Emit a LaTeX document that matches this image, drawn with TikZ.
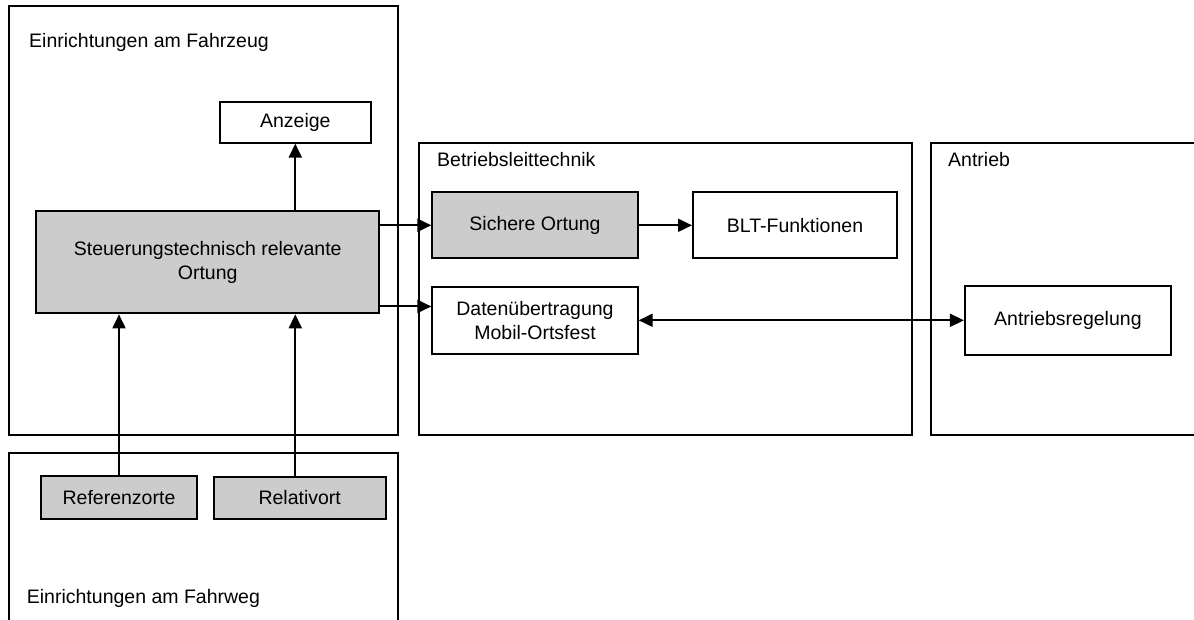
\documentclass[tikz,border=0pt]{standalone}
\usepackage{fontspec}
\setmainfont{Liberation Sans}
\usetikzlibrary{arrows.meta,calc}
\definecolor{boxgray}{RGB}{204,204,204}
\begin{document}
\begin{tikzpicture}[x=1pt,y=-1pt,
  lbl/.style={font=\fontsize{19.5}{24}\selectfont},
  box/.style={draw,line width=2pt,rectangle,inner sep=2pt,align=center,lbl},
  shaded/.style={box,fill=boxgray},
  frame/.style={draw,line width=2pt},
  title/.style={anchor=base west,inner sep=0pt,lbl},
  arr/.style={line width=2pt,-{Triangle[length=14pt,width=13pt]}},
  darr/.style={line width=2pt,{Triangle[length=14pt,width=13pt]}-{Triangle[length=14pt,width=13pt]}}]
\useasboundingbox (0,0) rectangle (1194,619);
\clip (0,0) rectangle (1194,619);

% group frames
\draw[frame] (9,6) rectangle (398,435.3);
\draw[frame] (9,453.3) rectangle (398,660);
\draw[frame] (419.3,142.7) rectangle (911.7,435.3);
\draw[frame] (930.7,142.7) rectangle (1230,435.3);

% group titles
\node[title] (tfz)  at (29,47.5)    {Einrichtungen am Fahrzeug};
\node[title] (tfw)  at (26.7,603.3) {Einrichtungen am Fahrweg};
\node[title] (tblt) at (437,166.5)  {Betriebsleittechnik};
\node[title] (tan)  at (948,166.5)  {Antrieb};

% blocks
\node[box]    (anz)  at (295.3,122.3) [minimum width=150.7pt,minimum height=40.7pt] {Anzeige};
\node[shaded] (st)   at (207.7,262.2) [minimum width=342.7pt,minimum height=102.3pt] {Steuerungstechnisch relevante\\Ortung};
\node[shaded] (so)   at (535,225.3)   [minimum width=205.4pt,minimum height=66pt] {Sichere Ortung};
\node[box]    (blt)  at (795,225.3)   [minimum width=204pt,minimum height=66pt] {BLT-Funktionen};
\node[box]    (dat)  at (535,320.3)   [minimum width=205.4pt,minimum height=67.3pt] {Datenübertragung\\Mobil-Ortsfest};
\node[box]    (ar)   at (1067.9,320.3)[minimum width=206pt,minimum height=69pt] {Antriebsregelung};
\node[shaded] (ref)  at (119,497.7)   [minimum width=156.6pt,minimum height=43pt] {Referenzorte};
\node[shaded] (rel)  at (299.7,498)   [minimum width=172pt,minimum height=42pt] {Relativort};

% connection points
\coordinate (datIn) at ($(dat.north west)!0.3!(dat.south west)$);
\coordinate (relOut) at ([xshift=-4.4pt]rel.north);

% connectors
\draw[arr] (st.north -| anz.south) -- (anz.south);
\draw[arr] (st.east |- so.west) -- (so.west);
\draw[arr] (st.east |- datIn) -- (datIn);
\draw[arr] (so.east) -- (blt.west);
\draw[darr] (dat.east) -- (ar.west);
\draw[arr] (ref.north) -- (ref.north |- st.south);
\draw[arr] (relOut) -- (relOut |- st.south);
\end{tikzpicture}
\end{document}
